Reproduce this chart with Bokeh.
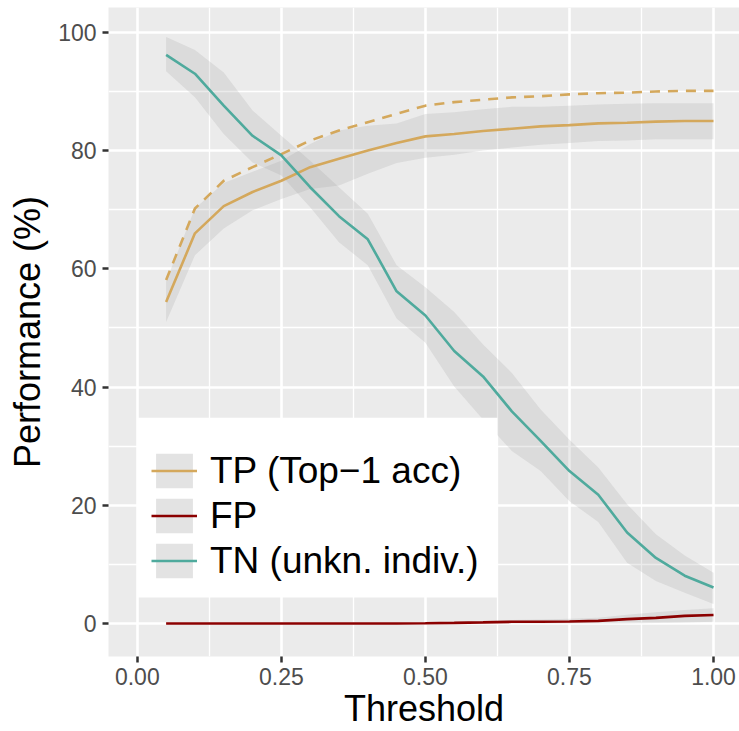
from bokeh.plotting import figure
from bokeh.models import (ColumnDataSource, Range1d, FixedTicker, Legend, LegendItem,
                          BoxAnnotation)
from bokeh.embed import file_html
from bokeh.resources import INLINE

# ---- data ----
threshold = [0.05, 0.10, 0.15, 0.20, 0.25, 0.30, 0.35, 0.40, 0.45, 0.50,
             0.55, 0.60, 0.65, 0.70, 0.75, 0.80, 0.85, 0.90, 0.95, 1.00]

tp_mean = [54.4, 66.0, 70.6, 73.0, 74.9, 77.2, 78.6, 80.0, 81.3, 82.4,
           82.8, 83.3, 83.7, 84.1, 84.3, 84.6, 84.7, 84.9, 85.0, 85.0]
tp_low = [51.0, 62.3, 66.8, 69.9, 71.8, 73.5, 74.1, 76.1, 77.9, 78.8,
          79.3, 80.0, 80.5, 81.0, 81.3, 81.6, 81.7, 81.9, 81.9, 81.9]
tp_high = [57.9, 70.2, 74.5, 76.4, 78.3, 81.1, 83.4, 84.2, 84.6, 86.2,
           86.5, 87.0, 87.4, 87.4, 87.6, 87.8, 87.9, 88.0, 88.0, 88.0]
tp_dashed = [58.1, 70.2, 74.9, 77.2, 79.4, 81.7, 83.4, 84.8, 86.2, 87.6,
             88.2, 88.6, 89.0, 89.2, 89.5, 89.7, 89.8, 90.0, 90.1, 90.1]

fp_mean = [0.0, 0.0, 0.0, 0.0, 0.0, 0.0, 0.0, 0.0, 0.0, 0.05,
           0.12, 0.2, 0.3, 0.32, 0.36, 0.45, 0.75, 0.96, 1.3, 1.46]
fp_low = [0.0, 0.0, 0.0, 0.0, 0.0, 0.0, 0.0, 0.0, 0.0, 0.0,
          0.0, 0.0, 0.0, 0.0, 0.0, 0.0, 0.0, 0.1, 0.2, 0.3]
fp_high = [0.0, 0.0, 0.0, 0.0, 0.0, 0.0, 0.0, 0.0, 0.05, 0.15,
           0.3, 0.45, 0.6, 0.7, 0.8, 1.0, 1.5, 1.9, 2.3, 2.6]

tn_mean = [96.2, 93.0, 87.6, 82.5, 79.2, 73.8, 68.9, 65.0, 56.2, 52.1,
           46.1, 41.8, 35.9, 30.9, 25.8, 21.8, 15.4, 11.1, 8.1, 6.1]
tn_low = [93.4, 89.0, 82.8, 78.0, 75.8, 70.4, 64.5, 60.6, 51.6, 47.5,
          40.1, 34.5, 29.2, 25.8, 20.7, 17.2, 10.3, 7.2, 5.2, 3.3]
tn_high = [99.2, 97.0, 93.2, 86.8, 82.5, 78.3, 73.8, 69.3, 60.6, 56.9,
           52.7, 47.2, 42.4, 36.2, 31.1, 26.4, 20.2, 15.1, 11.5, 8.6]

x_ticks = [0.0, 0.25, 0.5, 0.75, 1.0]
x_tick_labels = ["0.00", "0.25", "0.50", "0.75", "1.00"]
y_ticks = [0, 20, 40, 60, 80, 100]
y_tick_labels = ["0", "20", "40", "60", "80", "100"]

series_labels = ["TP (Top\u22121 acc)", "FP", "TN (unkn. indiv.)"]

TP_COLOR = "#D4A85C"
FP_COLOR = "#8B0000"
TN_COLOR = "#4FAA9D"
RIBBON = "#999999"
FONT = "Liberation Sans"

src = ColumnDataSource(dict(x=threshold, tp=tp_mean, tp_lo=tp_low, tp_hi=tp_high,
                            tp_d=tp_dashed, fp=fp_mean, fp_lo=fp_low, fp_hi=fp_high,
                            tn=tn_mean, tn_lo=tn_low, tn_hi=tn_high))

p = figure(width=739, height=731, output_backend="svg", toolbar_location=None,
           x_range=Range1d(-0.05, 1.0451), y_range=Range1d(-5.57, 104.2),
           min_border_left=108, min_border_right=0, min_border_top=7,
           min_border_bottom=74)

p.background_fill_color = "#EBEBEB"
p.border_fill_color = "white"
p.outline_line_color = None

# ticks / grid
p.xaxis.ticker = FixedTicker(ticks=x_ticks, minor_ticks=[0.125, 0.375, 0.625, 0.875])
p.yaxis.ticker = FixedTicker(ticks=y_ticks, minor_ticks=[10, 30, 50, 70, 90])
p.xaxis.major_label_overrides = {t: l for t, l in zip(x_ticks, x_tick_labels)}
p.yaxis.major_label_overrides = {t: l for t, l in zip(y_ticks, y_tick_labels)}

for g in (p.xgrid, p.ygrid):
    g.grid_line_color = "white"
    g.grid_line_width = 2.6
    g.minor_grid_line_color = "white"
    g.minor_grid_line_width = 1.3

for ax in (p.xaxis, p.yaxis):
    ax.axis_line_color = None
    ax.major_tick_line_color = "#333333"
    ax.major_tick_line_width = 2.5
    ax.major_tick_out = 6
    ax.major_tick_in = 0
    ax.minor_tick_line_color = None
    ax.major_label_text_font = FONT
    ax.major_label_text_font_size = "23px"
    ax.major_label_text_color = "#4D4D4D"
    ax.axis_label_text_font = FONT
    ax.axis_label_text_font_size = "36px"
    ax.axis_label_text_font_style = "normal"
    ax.axis_label_text_color = "black"

p.xaxis.axis_label = "Threshold"
p.yaxis.axis_label = "Performance (%)"
p.xaxis.major_label_standoff = 5
p.yaxis.major_label_standoff = 6
p.xaxis.axis_label_standoff = 0
p.yaxis.axis_label_standoff = 7

# legend key background: zero-height area (invisible in the plot, grey key in legend)
key_r = p.varea(x="x", y1="fp_lo", y2="fp_lo", source=src,
                fill_color="#E3E3E3", fill_alpha=1.0)

# ribbons
p.varea(x="x", y1="tp_lo", y2="tp_hi", source=src, fill_color=RIBBON, fill_alpha=0.2)
p.varea(x="x", y1="fp_lo", y2="fp_hi", source=src, fill_color=RIBBON, fill_alpha=0.2)
p.varea(x="x", y1="tn_lo", y2="tn_hi", source=src, fill_color=RIBBON, fill_alpha=0.2)

# lines
tp_r = p.line(x="x", y="tp", source=src, line_color=TP_COLOR, line_width=2.6)
p.line(x="x", y="tp_d", source=src, line_color=TP_COLOR, line_width=2.6, line_dash="10 8")
fp_r = p.line(x="x", y="fp", source=src, line_color=FP_COLOR, line_width=2.6)
tn_r = p.line(x="x", y="tn", source=src, line_color=TN_COLOR, line_width=2.6)

# white legend panel
p.add_layout(BoxAnnotation(left=0.0, right=0.625, bottom=4.4, top=34.8,
                           fill_color="white", fill_alpha=1.0, line_color=None))

legend = Legend(items=[LegendItem(label=series_labels[0], renderers=[key_r, tp_r]),
                       LegendItem(label=series_labels[1], renderers=[key_r, fp_r]),
                       LegendItem(label=series_labels[2], renderers=[key_r, tn_r])],
                location=(43, 74))
legend.padding = 16
legend.margin = 0
legend.spacing = 2
legend.glyph_width = 46
legend.glyph_height = 43
legend.label_height = 43
legend.label_standoff = 13
legend.label_text_font = FONT
legend.label_text_font_size = "37px"
legend.label_text_color = "black"
legend.border_line_color = None
legend.background_fill_alpha = 0.0
p.add_layout(legend, "center")

open("out.html", "w").write(file_html(p, INLINE))
